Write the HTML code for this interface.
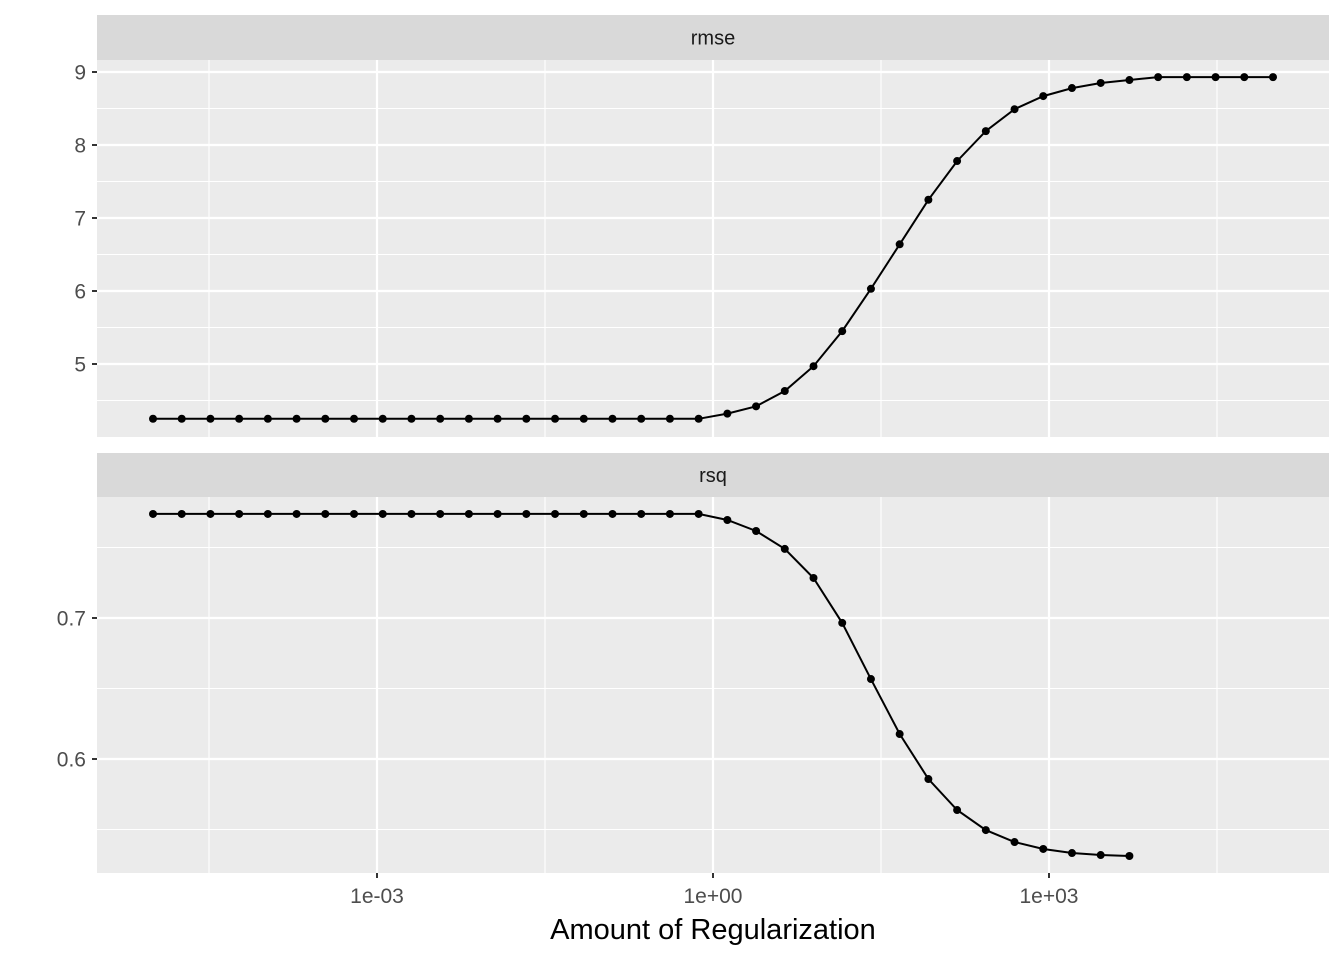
<!DOCTYPE html>
<html><head><meta charset="utf-8"><style>
body{margin:0;background:#fff}
svg{display:block;font-family:"Liberation Sans",sans-serif}
</style></head><body>
<svg id="chart" width="1344" height="960"></svg>
<script>
const logLambda = [];
for (let i=0;i<40;i++) logLambda.push(-5 + i*10/39);
const rmseValues = [4.25,4.25,4.25,4.25,4.25,4.25,4.25,4.25,4.25,4.25,4.25,4.25,4.25,4.25,4.25,4.25,4.25,4.25,4.25,4.25,4.32,4.42,4.63,4.97,5.45,6.03,6.64,7.25,7.78,8.19,8.49,8.67,8.78,8.85,8.89,8.93,8.93,8.93,8.93,8.93];
const rsqValues = [0.7738,0.7738,0.7738,0.7738,0.7738,0.7738,0.7738,0.7738,0.7738,0.7738,0.7738,0.7738,0.7738,0.7738,0.7738,0.7738,0.7738,0.7738,0.7738,0.7738,0.7695,0.7617,0.749,0.7284,0.6965,0.6567,0.6177,0.5858,0.5638,0.5496,0.5411,0.5362,0.5333,0.5319,0.5312];
const xTickLabels = ["1e-03","1e+00","1e+03"];
const xTickLogs = [-3,0,3];
const rmseTicks = [5,6,7,8,9];
const rsqTicks = [0.6,0.7];

const NS="http://www.w3.org/2000/svg";
const svg=document.getElementById('chart');
function el(tag,attrs,parent){const e=document.createElementNS(NS,tag);for(const k in attrs)e.setAttribute(k,attrs[k]);(parent||svg).appendChild(e);return e;}
const X0=97,X1=1329;
const xs=l=>713+l*112;

function panel(name,top,bottom,stripTop,yScale,majors,minors,vals,fmt){
  const g=el('g',{});
  
  
  const s=el('rect',{x:X0,y:stripTop,width:X1-X0,height:top-stripTop,fill:'#d9d9d9'},g);
  
  
  const st=el('text',{x:(X0+X1)/2,y:(stripTop+top)/2+7,'text-anchor':'middle','font-size':20,fill:'#1a1a1a'},g);
  st.textContent=name;
  
  
  el('rect',{x:X0,y:top,width:X1-X0,height:bottom-top,fill:'#ebebeb'},g);
  for(const m of minors) el('line',{x1:X0,x2:X1,y1:yScale(m),y2:yScale(m),stroke:'#fff','stroke-width':1.1},g);
  for(const l of [-4.5,-1.5,1.5,4.5]) el('line',{x1:xs(l),x2:xs(l),y1:top,y2:bottom,stroke:'#fff','stroke-width':1.1},g);
  for(const m of majors){
    el('line',{x1:X0,x2:X1,y1:yScale(m),y2:yScale(m),stroke:'#fff','stroke-width':2.2},g);
    el('line',{x1:X0-5,x2:X0,y1:yScale(m),y2:yScale(m),stroke:'#333','stroke-width':2},g);
    const t=el('text',{x:X0-11,y:yScale(m)+7.5,'text-anchor':'end','font-size':21,fill:'#4d4d4d'},g);
    t.textContent=fmt(m);
    
    
  }
  for(const l of xTickLogs) el('line',{x1:xs(l),x2:xs(l),y1:top,y2:bottom,stroke:'#fff','stroke-width':2.2},g);
  const pts=vals.map((v,i)=>xs(logLambda[i]).toFixed(1)+','+yScale(v).toFixed(1)).join(' ');
  const pl=el('polyline',{points:pts,fill:'none',stroke:'#000','stroke-width':2},g);
  
  
  vals.forEach((v,i)=>{
    const c=el('circle',{cx:xs(logLambda[i]),cy:yScale(v),r:4,fill:'#000'},g);
    
    
  });
}
panel('rmse',60,437,15,v=>72+(9-v)*73,rmseTicks,[4.5,5.5,6.5,7.5,8.5],rmseValues,v=>String(v));
panel('rsq',497,873,453,v=>618-(v-0.7)*1410,rsqTicks,[0.55,0.65,0.75],rsqValues,v=>v.toFixed(1));

xTickLogs.forEach((l,i)=>{
  el('line',{x1:xs(l),x2:xs(l),y1:873,y2:878,stroke:'#333','stroke-width':2});
  const t=el('text',{x:xs(l),y:903,'text-anchor':'middle','font-size':21,fill:'#4d4d4d'});
  t.textContent=xTickLabels[i];
  
  
});
const xt=el('text',{x:713,y:939,'text-anchor':'middle','font-size':29,fill:'#000'});
xt.textContent='Amount of Regularization';


</script>
</body></html>
